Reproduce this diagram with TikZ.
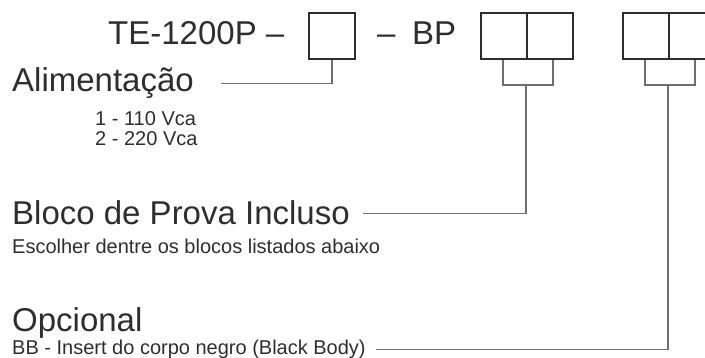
\documentclass[tikz,border=0pt]{standalone}
\usepackage{fontspec}
\setmainfont{Liberation Sans}
\definecolor{testo}{HTML}{2E2E2E}
\definecolor{linea}{HTML}{6E6E6E}
\tikzset{
  casella/.style={draw=testo, line width=2pt, minimum width=46pt, minimum height=46pt, inner sep=0pt, anchor=north west},
  titolo/.style={font=\fontsize{33}{33}\selectfont, text=testo, inner sep=0pt, anchor=base west},
  voce/.style={font=\fontsize{20}{20}\selectfont, text=testo, inner sep=0pt, anchor=base west},
  filo/.style={draw=linea, line width=1.1pt}
}
\begin{document}
\begin{tikzpicture}[x=1pt,y=-1pt]
            \useasboundingbox (0,0) rectangle (705,358);
            %codice del modello con le caselle da riempire
            \node[titolo] (codice) at (108,45) {TE-1200P –};
            \node[casella] (c1) at (308,12) {};
            \node[titolo] (bp) at (377,45) {–\enspace BP};
            \node[casella] (c2a) at (480,12) {};
            \node[casella] (c2b) at (526,12) {};
            \node[casella] (c3a) at (622,12) {};
            \node[casella] (c3b) at (668,12) {};

            %voci a sinistra
            \node[titolo] (alim) at (12,92) {Alimentação};
            \node[voce] (v1) at (95,126) {1 - 110 Vca};
            \node[voce] (v2) at (95,146) {2 - 220 Vca};
            \node[titolo] (bloco) at (12,225) {Bloco de Prova Incluso};
            \node[voce] (scelta) at (12,254) {Escolher dentre os blocos listados abaixo};
            \node[titolo] (opz) at (12,332) {Opcional};
            \node[voce] (bb) at (12,355) {BB - Insert do corpo negro (Black Body)};

            \coordinate (g2) at (526,85);
            \coordinate (g3) at (668,85);

            \draw[filo] (c1.south) |- ([xshift=27pt]alim.east);
            \draw[filo] ([xshift=-25pt]c2a.south east) |- (g2) -| ([xshift=25pt]c2a.south east);
            \draw[filo] ([xshift=-25pt]c3a.south east) |- (g3) -| ([xshift=25pt]c3a.south east);
            \draw[filo] (g2) |- ([xshift=13pt]bloco.east);
            \draw[filo] (g3) |- ([xshift=10pt]bb.east);

        \end{tikzpicture}
\end{document}
